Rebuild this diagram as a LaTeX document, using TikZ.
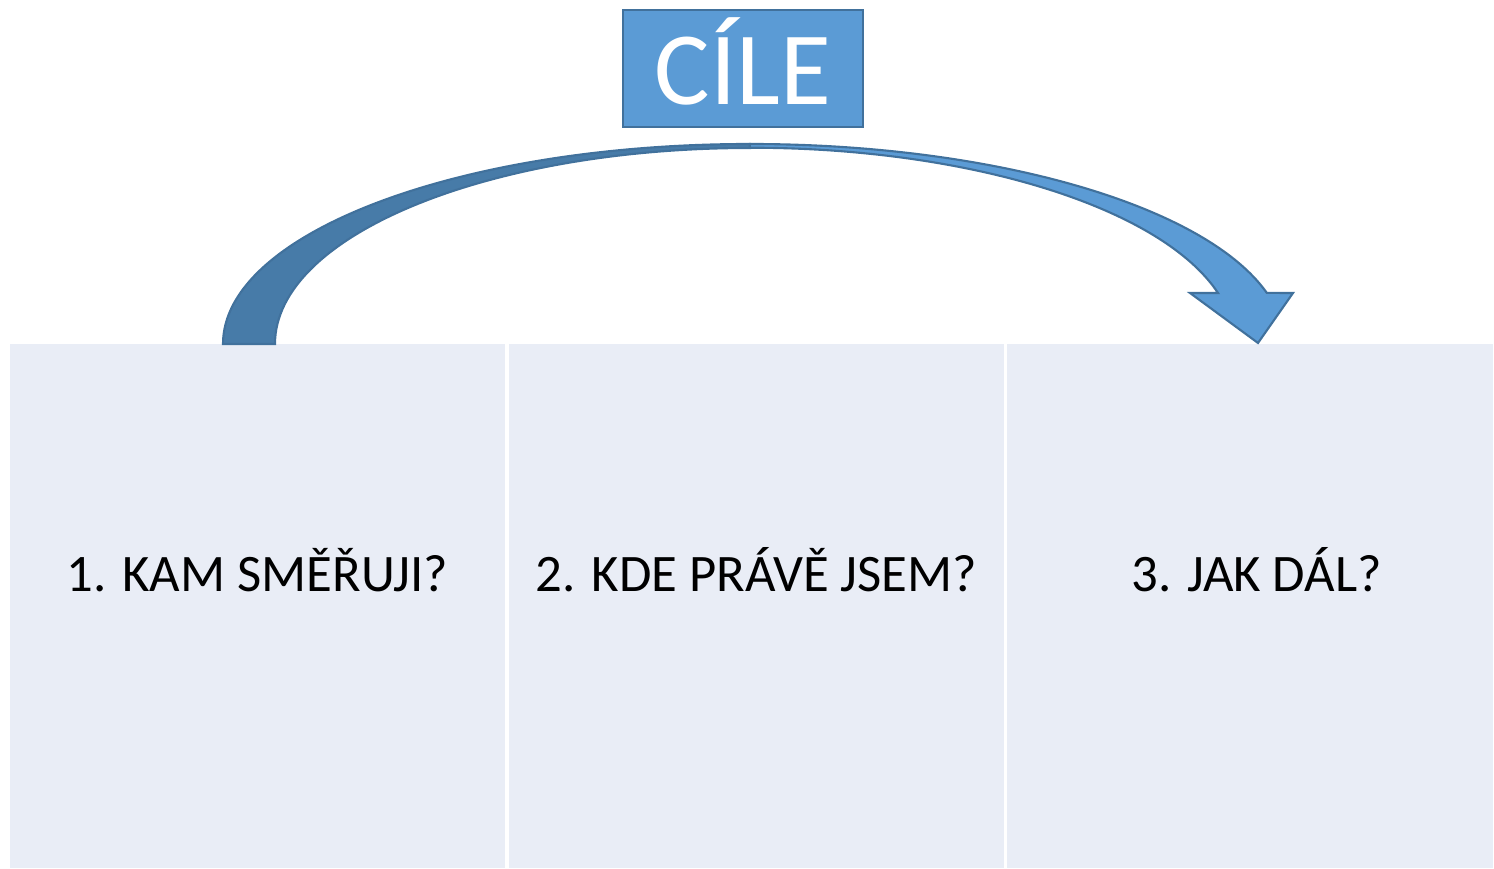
\documentclass[tikz,border=0pt]{standalone}
\usepackage{fontspec}
\setmainfont{Carlito}
\usepackage{tikz}
\usetikzlibrary{
    arrows.meta,
    positioning,
    calc
}
\definecolor{goalBlue}{RGB}{91,155,213}
\definecolor{goalEdge}{RGB}{65,113,156}
\definecolor{arcDark}{RGB}{71,123,168}
\definecolor{panelFill}{RGB}{233,237,246}

\begin{document}
\begin{tikzpicture}[
    panel/.style={fill=panelFill, inner sep=0pt, minimum height=5.24cm},
    question/.style={anchor=base, text=black, font=\fontsize{15}{18}\selectfont},
    goal/.style={draw=goalEdge, fill=goalBlue, line width=0.8pt, minimum width=2.40cm,
                 minimum height=1.17cm, inner ysep=0pt, text depth=0.14cm, text=white,
                 font=\fontsize{29.6}{32}\selectfont},
    arcback/.style={fill=arcDark, draw=goalEdge, line width=0.6pt},
    arcfront/.style={fill=goalBlue, draw=goalEdge, line width=0.6pt}
]
\useasboundingbox (0,0) rectangle (14.94,8.69);

% --- PANELS ---
\node[panel, minimum width=4.95cm] (kam) at (2.575,2.63) {};
\node[panel, minimum width=4.95cm] (kde) at (7.565,2.63) {};
\node[panel, minimum width=4.86cm] (jak) at (12.50,2.63) {};

% --- QUESTIONS ---
\node[question] (q1) at (kam.center |- 0,2.77) {1. KAM SMĚŘUJI?};
\node[question] (q2) at (kde.center |- 0,2.77) {2. KDE PRÁVĚ JSEM?};
\node[question] (q3) at ([xshift=0.065cm]jak.center |- 0,2.77) {3. JAK DÁL?};

% --- GOAL BOX ---
\node[goal] (cile) at (7.43,8.005) {CÍLE};

% --- CURVED ARROW: back part (tail) ---
\filldraw[arcback] (2.23,5.25)
    arc[start angle=180, end angle=90, x radius=5.27, y radius=2.00]
    -- (7.50,7.21)
    arc[start angle=90, end angle=180, x radius=4.75, y radius=1.96] -- cycle;

% --- CURVED ARROW: front part with head ---
\filldraw[arcfront] (7.50,7.25)
    arc[start angle=90, end angle=14.8, x radius=5.346, y radius=2.00]
    -- (12.93,5.76) -- (12.58,5.26) -- (11.90,5.76) -- (12.18,5.76)
    arc[start angle=15, end angle=90, x radius=4.847, y radius=1.96] -- cycle;
\end{tikzpicture}
\end{document}
